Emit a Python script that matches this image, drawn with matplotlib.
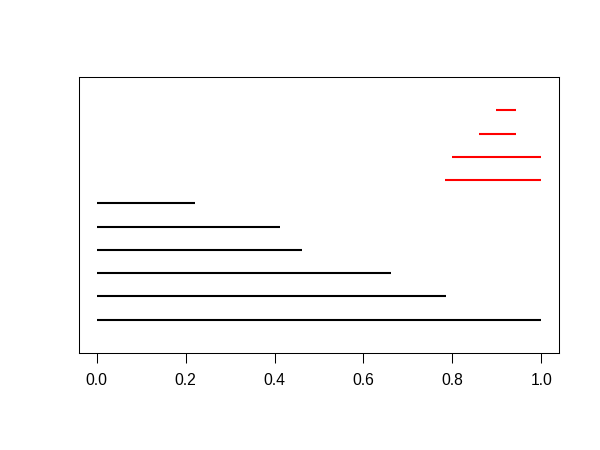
import matplotlib
matplotlib.use("Agg")
import matplotlib.pyplot as plt

# segment rows (y = 1..10), black rows first, then red rows
black_start = [0.0, 0.0, 0.0, 0.0, 0.0, 0.0]
black_end = [1.0, 0.786, 0.662, 0.461, 0.412, 0.222]
red_start = [0.783, 0.800, 0.860, 0.899]
red_end = [1.0, 1.0, 0.944, 0.944]
x_ticks = [0.0, 0.2, 0.4, 0.6, 0.8, 1.0]


def main():
    plt.rcParams["font.family"] = ["Liberation Sans", "DejaVu Sans"]
    fig = plt.figure(figsize=(6, 4.5), dpi=100)
    ax = fig.add_axes([79 / 600, 1 - 353 / 450, 480 / 600, 276 / 450])

    n_black = len(black_start)
    ax.hlines(range(1, n_black + 1), black_start, black_end,
              colors="black", linewidth=1.5)
    ax.hlines(range(n_black + 1, n_black + len(red_start) + 1), red_start, red_end,
              colors="red", linewidth=1.5)

    ax.set_xlim(-0.04, 1.04)
    ax.set_ylim(-0.44, 11.44)
    ax.set_xticks(x_ticks)
    ax.set_xticklabels([f"{t:.1f}" for t in x_ticks])
    ax.set_yticks([])
    ax.tick_params(axis="x", length=7, width=0.75, labelsize=11.3, pad=7.5)
    for spine in ax.spines.values():
        spine.set_linewidth(0.75)

    fig.savefig("out.png", dpi=100)
    plt.close(fig)


if __name__ == "__main__":
    main()
